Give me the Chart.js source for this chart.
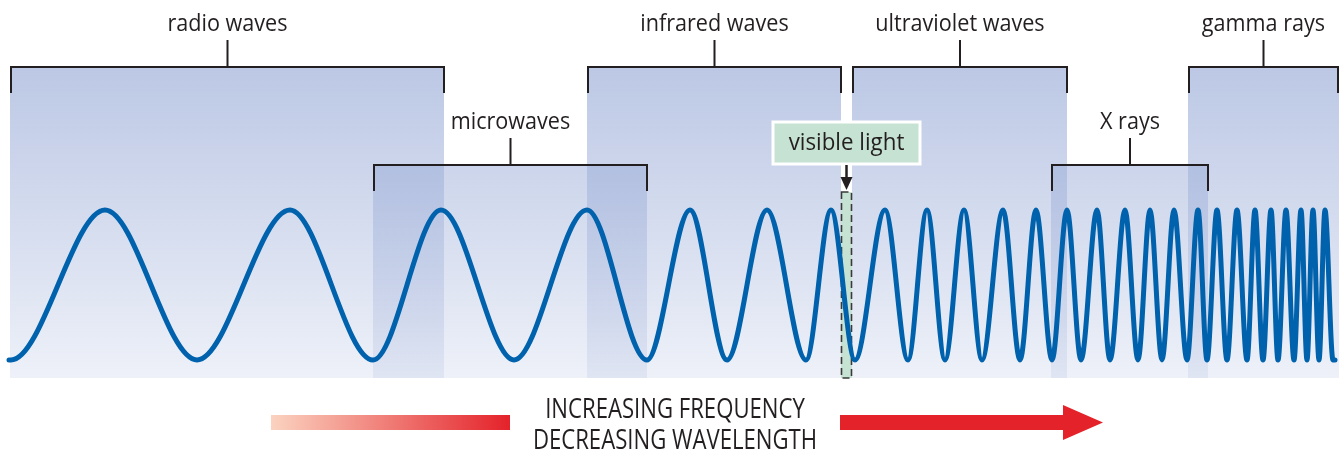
<!DOCTYPE html>
<html>
<head>
<meta charset="utf-8">
<script src="https://cdn.jsdelivr.net/npm/chart.js"></script>
<style>
  body { margin: 0; background: #fff; }
  canvas { display: block; }
</style>
</head>
<body>
<canvas id="spectrum" width="1339" height="454"></canvas>
<script>
// bands along the spectrum (x in diagram units, left = long wavelength)
var bandNames = ['radio waves', 'microwaves', 'infrared waves', 'ultraviolet waves', 'X rays', 'gamma rays'];
var bandStart = [10, 373, 587, 852, 1051, 1188];
var bandEnd   = [444, 647, 841, 1067, 1208, 1339];
var bandRow   = [0, 1, 0, 0, 1, 0];   // 0 = upper bracket row, 1 = lower bracket row

var visibleLabel = 'visible light';
var visibleStart = 841;
var visibleEnd = 852;

// crests (+1) and troughs (-1) of the wave;
// the line starts and ends flat on a trough
var waveX = [11, 105, 197, 290, 373, 441, 514, 587, 647, 690, 727, 767, 806, 831, 855, 885,
             908, 927, 945, 964, 982, 1003, 1020, 1036, 1052, 1067, 1081, 1097, 1110, 1125,
             1138, 1150, 1162, 1174, 1187, 1198, 1207, 1217, 1227, 1237, 1247, 1255, 1263,
             1271, 1278, 1286, 1294, 1301, 1307, 1313, 1319, 1325, 1333];
var waveY = [-1, 1, -1, 1, -1, 1, -1, 1, -1, 1, -1, 1, -1, 1, -1, 1,
             -1, 1, -1, 1, -1, 1, -1, 1, -1, 1, -1, 1, -1, 1,
             -1, 1, -1, 1, -1, 1, -1, 1, -1, 1, -1, 1, -1,
             1, -1, 1, -1, 1, -1, 1, -1, 1, -1];
var waveLeadIn = 9;    // flat run before the first trough
var waveLeadOut = 1335;

var arrowLine1 = 'INCREASING FREQUENCY';
var arrowLine2 = 'DECREASING WAVELENGTH';

var INK = '#231f20';
var GREEN = '#c6e2d3';

function squeezedText(ctx, str, x, y, size, squeeze) {
  ctx.save();
  ctx.translate(x, y);
  ctx.scale(squeeze, 1);
  ctx.font = size + 'px "Open Sans"';
  ctx.textAlign = 'center';
  ctx.textBaseline = 'middle';
  ctx.fillStyle = INK;
  ctx.fillText(str, 0, 0);
  ctx.restore();
}

var decor = {
  id: 'decor',
  beforeDatasetsDraw: function (chart) {
    var ctx = chart.ctx;
    var xs = chart.scales.x;
    var rowTop = [67, 165];
    var bottom = 378;

    // shaded bands, translucent so overlaps darken
    var grad = ctx.createLinearGradient(0, 67, 0, bottom);
    grad.addColorStop(0, 'rgba(153,171,215,0.66)');
    grad.addColorStop(1, 'rgba(153,171,215,0.17)');
    for (var i = 0; i < bandNames.length; i++) {
      var x0 = xs.getPixelForValue(bandStart[i]);
      var x1 = xs.getPixelForValue(bandEnd[i]);
      ctx.fillStyle = grad;
      ctx.fillRect(x0, rowTop[bandRow[i]], x1 - x0, bottom - rowTop[bandRow[i]]);
    }

    // visible light strip
    var v0 = xs.getPixelForValue(visibleStart);
    var v1 = xs.getPixelForValue(visibleEnd);
    ctx.fillStyle = '#fff';
    ctx.fillRect(v0, 67, v1 - v0, 125);
    ctx.fillStyle = GREEN;
    ctx.fillRect(v0, 192, v1 - v0, bottom - 192);
    ctx.save();
    ctx.strokeStyle = '#3a3a3a';
    ctx.lineWidth = 1.6;
    ctx.setLineDash([7, 4]);
    ctx.strokeRect(v0 + 0.5, 192, v1 - v0 - 1, bottom - 192);
    ctx.restore();

    // brackets and labels
    ctx.strokeStyle = INK;
    ctx.lineWidth = 2;
    for (var i = 0; i < bandNames.length; i++) {
      var x0 = xs.getPixelForValue(bandStart[i]) + 1;
      var x1 = Math.min(xs.getPixelForValue(bandEnd[i]), chart.width - 1);
      var xm = (x0 + x1) / 2;
      var yb = rowTop[bandRow[i]];
      ctx.beginPath();
      ctx.moveTo(x0, yb + 26);
      ctx.lineTo(x0, yb);
      ctx.lineTo(x1, yb);
      ctx.lineTo(x1, yb + 26);
      ctx.moveTo(xm, yb);
      ctx.lineTo(xm, yb - 27);
      ctx.stroke();
      squeezedText(ctx, bandNames[i], xm, yb - 43, 24, 0.9);
    }

    // visible light label box and arrow
    var vm = (v0 + v1) / 2;
    ctx.fillStyle = GREEN;
    ctx.fillRect(773, 122, 147, 42);
    ctx.strokeStyle = '#fff';
    ctx.lineWidth = 3;
    ctx.strokeRect(773, 122, 147, 42);
    squeezedText(ctx, visibleLabel, vm, 143, 24, 0.93);
    ctx.strokeStyle = INK;
    ctx.lineWidth = 2.5;
    ctx.beginPath();
    ctx.moveTo(vm, 165);
    ctx.lineTo(vm, 180);
    ctx.stroke();
    ctx.fillStyle = INK;
    ctx.beginPath();
    ctx.moveTo(vm - 6, 177);
    ctx.lineTo(vm + 6, 177);
    ctx.lineTo(vm, 190);
    ctx.closePath();
    ctx.fill();
  },
  afterDraw: function (chart) {
    var ctx = chart.ctx;
    // fading bar on the left
    var g = ctx.createLinearGradient(271, 0, 510, 0);
    g.addColorStop(0, '#fbd3c0');
    g.addColorStop(1, '#e4222a');
    ctx.fillStyle = g;
    ctx.fillRect(271, 415, 239, 15);
    // arrow on the right
    ctx.fillStyle = '#e4222a';
    ctx.beginPath();
    ctx.moveTo(840, 415);
    ctx.lineTo(1063, 415);
    ctx.lineTo(1063, 405);
    ctx.lineTo(1103, 422.5);
    ctx.lineTo(1063, 440);
    ctx.lineTo(1063, 430);
    ctx.lineTo(840, 430);
    ctx.closePath();
    ctx.fill();
    squeezedText(ctx, arrowLine1, 675, 410, 27, 0.82);
    squeezedText(ctx, arrowLine2, 675, 441, 27, 0.82);
  }
};

var points = [{ x: waveLeadIn, y: waveY[0] }];
for (var i = 0; i < waveX.length; i++) points.push({ x: waveX[i], y: waveY[i] });
points.push({ x: waveLeadOut, y: waveY[waveY.length - 1] });

new Chart('spectrum', {
  type: 'line',
  data: {
    datasets: [{
      data: points,
      borderColor: '#0062ad',
      borderWidth: 5,
      borderCapStyle: 'round',
      pointRadius: 0,
      cubicInterpolationMode: 'monotone',
      fill: false,
      clip: false
    }]
  },
  options: {
    responsive: false,
    animation: false,
    layout: { padding: 0 },
    plugins: { legend: { display: false }, tooltip: { enabled: false } },
    scales: {
      x: { type: 'linear', min: 0, max: 1339, display: false },
      y: { min: -2.2533, max: 3.8, display: false }
    }
  },
  plugins: [decor]
});
</script>
</body>
</html>
